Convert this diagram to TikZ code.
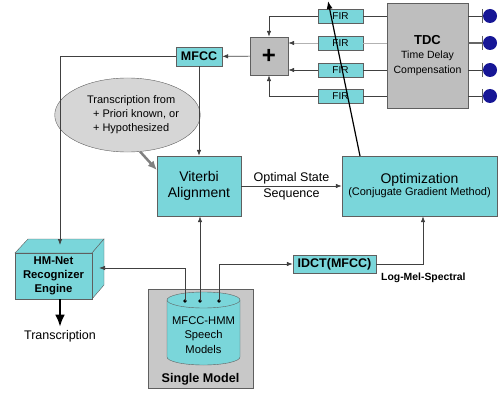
\documentclass[tikz,border=0pt]{standalone}
\usepackage{fontspec}
\setmainfont{Liberation Sans}
\usetikzlibrary{shapes.geometric,arrows,arrows.meta,positioning}
\definecolor{tealfill}{RGB}{122,214,218}
\definecolor{grayfill}{RGB}{190,190,190}
\definecolor{singlegray}{RGB}{200,200,200}
\definecolor{ovalgray}{RGB}{214,214,214}
\definecolor{micblue}{RGB}{22,22,150}
\definecolor{edge}{RGB}{95,95,95}
\tikzset{>={Latex[length=6pt,width=4.5pt]}}
\tikzset{
  tealbox/.style = {draw=edge, fill=tealfill, inner sep=0pt, align=center},
  graybox/.style = {draw=edge, fill=grayfill, inner sep=0pt, align=center},
  link/.style = {draw=black!75, line width=0.7pt},
  faint/.style = {draw=black!30, line width=0.7pt},
  bigtip/.style = {-{Latex[length=12pt,width=10pt]}}
}

\begin{document}
\begin{tikzpicture}[x=1pt,y=-1pt]
  \useasboundingbox (0,0) rectangle (503,393);

  \node[graybox, minimum width=81pt, minimum height=105pt,
        font=\fontsize{10.5}{14.5}\selectfont] (tdc) at (427.5,55.5)
        {{\fontsize{13}{14.5}\selectfont\bfseries TDC}\\Time Delay\\Compensation};
  \foreach \i/\y in {1/16,2/43,3/70,4/96} {
    \node[tealbox, minimum width=45pt, minimum height=13.5pt,
          font=\fontsize{10}{12}\selectfont] (fir\i) at (340.5,\y) {FIR};
    \node[circle, fill=micblue, minimum size=14pt, inner sep=0pt] (mic\i) at (490,\y) {};
  }
  \node[graybox, minimum size=38pt, font=\fontsize{24}{24}\selectfont\bfseries] (plus) at (269,56) {+};
  \node[tealbox, minimum width=46pt, minimum height=19pt,
        font=\fontsize{12.5}{14}\selectfont\bfseries] (mfcc) at (199,56.5) {MFCC};
  \node[ellipse, draw=edge, fill=ovalgray, minimum width=122pt, minimum height=74pt,
        inner sep=0pt, align=left, font=\fontsize{11}{14}\selectfont] (prior) at (127.5,115)
        {\hspace*{11pt}Transcription from\\\hspace*{17pt}+ Priori known, or\\\hspace*{17pt}+ Hypothesized};
  \node[tealbox, minimum width=84pt, minimum height=60pt,
        font=\fontsize{14}{16}\selectfont] (viterbi) at (199,186) {Viterbi\\Alignment};
  \node[tealbox, minimum width=155pt, minimum height=60pt] (opt) at (419.5,186)
        {{\fontsize{14}{16}\selectfont Optimization}\\{\fontsize{11}{16}\selectfont (Conjugate Gradient Method)}};
  \node[tealbox, minimum width=83pt, minimum height=18pt,
        font=\fontsize{12.5}{14}\selectfont\bfseries] (idct) at (334.5,264) {IDCT(MFCC)};
  \node[anchor=west, inner sep=0pt, font=\fontsize{10.4}{12}\selectfont\bfseries] (logmel)
        at (381,277.5) {Log-Mel-Spectral};

  % HM-Net block
  \filldraw[draw=edge, fill=tealfill] (15,253) -- (28,239) -- (104,239) -- (92,253) -- cycle;
  \filldraw[draw=edge, fill=tealfill] (92,253) -- (104,239) -- (104,285) -- (92,299) -- cycle;
  \node[tealbox, minimum width=77pt, minimum height=46pt,
        font=\fontsize{11.3}{14}\selectfont\bfseries] (hmnet) at (53.5,276)
        {HM-Net\\Recognizer\\Engine};
  \coordinate (hmtop) at (60,245);
  \coordinate (hmside) at (99,268);
  \node[font=\fontsize{12.5}{14}\selectfont] (transcr) at (60,336) {Transcription};

  % single model
  \node[draw=edge, fill=singlegray, minimum width=105pt, minimum height=99pt] (single) at (200.5,338.5) {};
  \node[font=\fontsize{12.6}{14}\selectfont\bfseries] (singlelbl) at (200.5,379) {Single Model};
  \filldraw[draw=edge, fill=tealfill] (167,300) -- (167,357)
    arc[start angle=180, end angle=0, x radius=36.5, y radius=8] -- (240,300) -- cycle;
  \filldraw[draw=edge, fill=tealfill] (203.5,300) ellipse[x radius=36.5, y radius=8];
  \node[align=center, font=\fontsize{11.2}{14.5}\selectfont] (hmm) at (203.5,335) {MFCC-HMM\\Speech\\Models};
  \coordinate (dotL) at (185,301);
  \coordinate (dotM) at (200,301);
  \coordinate (dotR) at (219,301);
  \foreach \d in {dotL,dotM,dotR} \fill (\d) circle (1.8pt);

  % connectors
  \foreach \i in {1,3,4} \draw[link] (tdc.west |- fir\i) -- (fir\i);
  \draw[faint] (tdc.west |- fir2) -- (fir2);
  \foreach \i in {1,3,4} {
    \draw[link] (tdc.east |- mic\i) -- (mic\i.west);
    \draw[edge, line width=0.8pt] ([yshift=7pt]mic\i.west) -- ([yshift=-7pt]mic\i.west);
  }
  \draw[black!60, line width=1.4pt] (tdc.east |- mic2) -- (mic2.west);
  \draw[edge, line width=0.8pt] ([yshift=7pt]mic2.west) -- ([yshift=-7pt]mic2.west);
  \draw[link,->] (fir1) -| (plus);
  \draw[faint,-{Latex[length=6pt,width=4.5pt,color=black!75]}] (fir2) -- (plus.east |- fir2);
  \draw[link,->] (fir3) -- (plus.east |- fir3);
  \draw[link,->] (fir4) -| (plus);
  \draw[link,->] (plus) -- (mfcc);
  \draw[link,->] (mfcc.west) -| (hmtop);
  \draw[link,->] (mfcc) -- (viterbi);
  \draw[gray, line width=2.5pt, -{Latex[length=9pt,width=8pt]}] (prior.-71) -- ([yshift=16pt]viterbi.west);
  \draw[link,->] (viterbi) -- (opt)
    node[midway, align=center, font=\fontsize{12.5}{16}\selectfont] (seqlbl) {Optimal State\\Sequence};
  \draw[link,->] (dotM) -- (viterbi.south -| dotM);
  \draw[link,->] (dotL) |- (hmside);
  \draw[link,->] (dotR) |- (idct);
  \draw[link,->] (idct) -| ([xshift=3.5pt]opt.south);
  \draw[bigtip, line width=2.2pt] (hmnet.south -| hmtop) -- (transcr.north -| hmtop);
  \coordinate (optout) at (360,156);
  \coordinate (diagtop) at (328,1);
  \draw[line width=1.2pt, -{Latex[length=8pt,width=6pt]}] (optout) -- (diagtop);
\end{tikzpicture}
\end{document}
